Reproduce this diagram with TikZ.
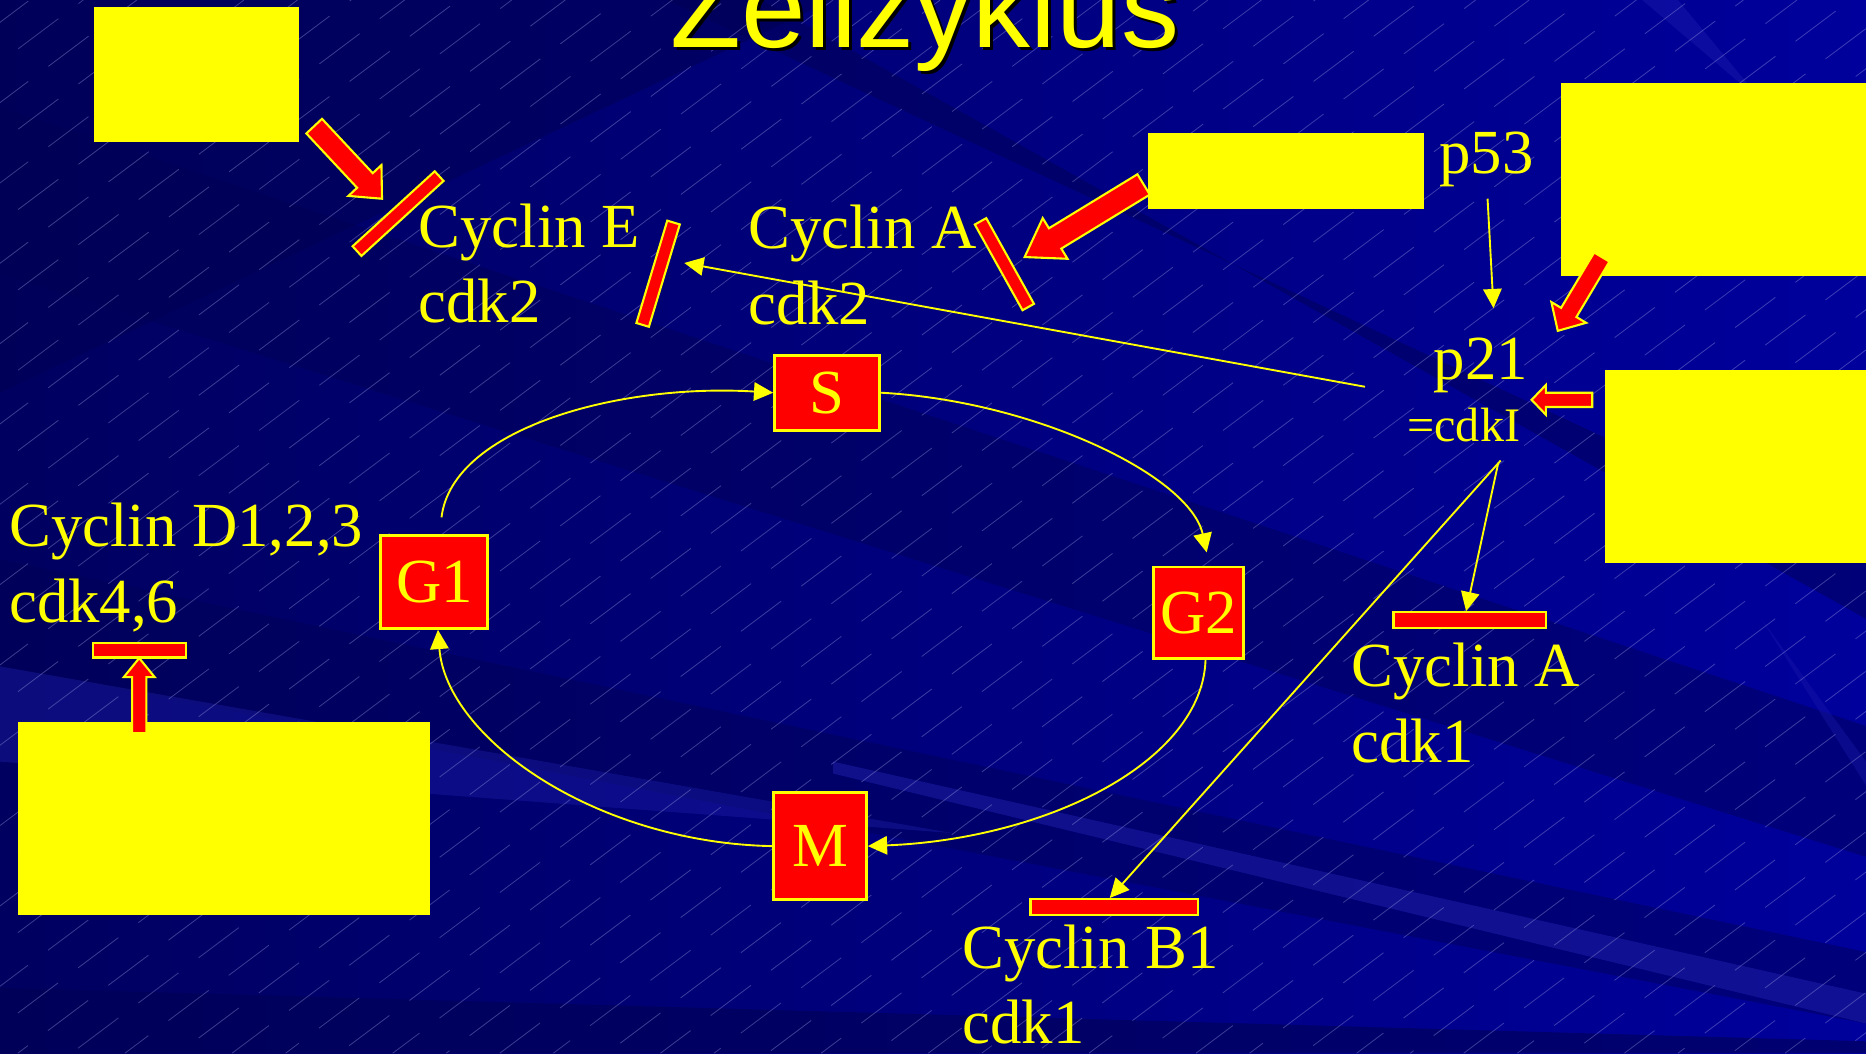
\documentclass[tikz,border=0pt]{standalone}
\usepackage{fontspec}
\setmainfont{Liberation Serif}
\newfontfamily\titlefont{Liberation Sans}
\usetikzlibrary{calc,arrows.meta,fit}
\definecolor{bgA}{HTML}{000060}
\definecolor{bgB}{HTML}{00009C}
\definecolor{bgdark}{HTML}{000055}
\definecolor{bglight}{HTML}{2424B4}
\definecolor{hatchcol}{HTML}{A8A8E8}
\definecolor{ared}{HTML}{FF0000}
\definecolor{ayel}{HTML}{FFFF00}
\tikzset{
  lbl/.style={text=ayel, font=\fontsize{15}{18}\selectfont, inner sep=0pt, anchor=base west},
  phase/.style={draw=ayel, fill=ared, line width=0.7pt, text=ayel, font=\fontsize{15}{18}\selectfont, inner sep=0pt},
  ybox/.style={fill=ayel, draw=none, inner sep=0pt},
  inhib/.style={draw=ayel, fill=ared, line width=0.5pt, inner sep=0pt},
  blockarr/.style={draw=ayel, fill=ared, line width=0.5pt, line join=miter},
  flow/.style={draw=ayel, line width=0.45pt, -{Triangle[length=4.6pt,width=4.4pt]}},
}
% tail, tip, shaft half width, head half width, head length
\newcommand\blockarrow[5]{%
  \coordinate (bah) at ($(#2)!#5!(#1)$);
  \filldraw[blockarr] ($(#1)!#3!90:(#2)$) -- ($(bah)!#3!90:(#2)$) -- ($(bah)!#4!90:(#2)$) -- (#2)
     -- ($(bah)!#4!-90:(#2)$) -- ($(bah)!#3!-90:(#2)$) -- ($(#1)!#3!-90:(#2)$) -- cycle;
}
\begin{document}
\begin{tikzpicture}[x=0.01cm,y=-0.01cm]
\useasboundingbox (0,0) rectangle (1568,885);
% ---------- background ----------
\shade[left color=bgA, right color=bgB] (0,0) rectangle (1568,885);
\begin{scope}
\clip (0,0) rectangle (1568,885);
\fill[bgdark, opacity=0.55] (0,0) -- (700,0) -- (0,330) -- cycle;
\fill[bgdark, opacity=0.45] (0,90) -- (0,230) -- (1568,720) -- (1568,610) -- cycle;
\fill[bgdark, opacity=0.45] (0,470) -- (0,560) -- (1568,860) -- (1568,800) -- cycle;
\fill[bgdark, opacity=0.6] (0,830) -- (0,885) -- (1568,885) -- (1568,875) -- cycle;
\fill[bgdark, opacity=0.5] (560,0) -- (640,0) -- (1568,520) -- (1568,470) -- cycle;
\fill[bglight, opacity=0.45] (700,640) -- (1568,835) -- (1568,860) -- (700,650) -- cycle;
\fill[bglight, opacity=0.35] (0,560) -- (0,640) -- (800,700) -- cycle;
\fill[bglight, opacity=0.35] (1380,0) -- (1410,0) -- (1568,190) -- (1568,160) -- cycle;
\fill[bglight, opacity=0.3] (1480,520) -- (1568,640) -- (1568,660) -- cycle;
\foreach \i in {0,...,62} {
  \pgfmathsetmacro\xs{-1200+\i*45}
  \pgfmathsetmacro\ph{mod(\i*7,18)}
  \draw[hatchcol, opacity=0.35, line width=0.2pt, dash pattern=on 12pt off 6pt, dash phase=\ph pt] (\xs,885) -- ++(1180,-885);
}
\end{scope}
% ---------- title ----------
\node[anchor=base, inner sep=0pt, text=black, font=\titlefont\fontsize{27.7}{30}\selectfont] (titleshadow) at (779.5,42.5) {Zellzyklus};
\node[anchor=base, inner sep=0pt, text=ayel, font=\titlefont\fontsize{27.7}{30}\selectfont] (title) at (777,40) {Zellzyklus};
% ---------- yellow boxes ----------
\node[ybox, fit={(79,6) (251,119)}] (boxA) {};
\node[ybox, fit={(965,112) (1197,176)}] (boxB) {};
\node[ybox, fit={(1312,70) (1568,232)}] (boxC) {};
\node[ybox, fit={(1349,311) (1568,473)}] (boxD) {};
\node[ybox, fit={(15,607) (361,769)}] (boxE) {};
% ---------- labels ----------
\node[lbl] (cycE) at (351,208) {Cyclin E};
\node[lbl] (cycEk) at (351,271) {cdk2};
\node[lbl] (cycA) at (628,209) {Cyclin A};
\node[lbl] (cycAk) at (628,273) {cdk2};
\node[lbl] (p53) at (1209,146) {p53};
\node[lbl] (p21) at (1204,319) {p21};
\node[lbl, font=\fontsize{11.5}{14}\selectfont] (cdkI) at (1182,371) {=cdkI};
\node[lbl] (cycA1) at (1135,577) {Cyclin A};
\node[lbl] (cycA1k) at (1135,641) {cdk1};
\node[lbl] (cycB1) at (808,814) {Cyclin B1};
\node[lbl] (cycB1k) at (808,877) {cdk1};
\node[lbl] (cycD) at (7,459) {Cyclin D1,2,3};
\node[lbl] (cycDk) at (7,523) {cdk4,6};
% ---------- phase boxes ----------
\node[phase, minimum width=0.88cm, minimum height=0.63cm] (S) at (695,330) {S};
\node[phase, minimum width=0.90cm, minimum height=0.78cm] (G1) at (365,489) {G1};
\node[phase, minimum width=0.76cm, minimum height=0.77cm] (G2) at (1007,515) {G2};
\node[phase, minimum width=0.78cm, minimum height=0.90cm] (M) at (689,711) {M};
% ---------- inhibition bars ----------
\node[inhib, minimum width=0.934cm, minimum height=0.11cm, rotate=42.4] (barE1) at (334.5,179.5) {};
\node[inhib, minimum width=0.898cm, minimum height=0.11cm, rotate=73.2] (barE2) at (553,230) {};
\node[inhib, minimum width=0.824cm, minimum height=0.11cm, rotate=-60.9] (barA) at (844,222) {};
\node[inhib, minimum width=0.78cm, minimum height=0.12cm] (barD) at (117,546.5) {};
\node[inhib, minimum width=1.28cm, minimum height=0.13cm] (barA1) at (1235,521) {};
\node[inhib, minimum width=1.41cm, minimum height=0.13cm] (barB1) at (936.5,762) {};
% ---------- cycle ----------
\draw[flow] ($(G1.north)+(6,-14)$) .. controls (380,360) and (520,322) .. (S.west);
\draw[flow] (S.east) .. controls (870,337) and (1000,400) .. ($(G2.north)+(7,-11)$);
\draw[flow] ($(G2.south)+(6,0)$) .. controls (1010,640) and (880,705) .. (M.east);
\draw[flow] (M.west) .. controls (500,708) and (375,620) .. ($(G1.south)+(3,0)$);
% ---------- regulatory connectors ----------
\coordinate (p53out) at (1250,167);
\coordinate (p21in) at (1255,259);
\coordinate (p21left) at (1147,325);
\coordinate (cycEtip) at (575,221);
\coordinate (p21outA) at (1259,389);
\coordinate (p21outB) at (1261,387);
\draw[flow] (p53out) -- (p21in);
\draw[flow] (p21left) -- (cycEtip);
\draw[flow] (p21outA) -- ($(barA1.north)+(-3,0)$);
\draw[flow] (p21outB) -- ($(barB1.north)+(-4,0)$);
% ---------- block arrows ----------
\coordinate (a1tail) at (264,106); \coordinate (a1tip) at (321,167);
\coordinate (a2tail) at (961,155); \coordinate (a2tip) at (861,216);
\coordinate (a3tail) at (1346,216); \coordinate (a3tip) at (1309,278);
\coordinate (a4tail) at (1338,336); \coordinate (a4tip) at (1287,336);
\coordinate (a5tail) at (117,616); \coordinate (a5tip) at (117,553);
\blockarrow{a1tail}{a1tip}{0.09cm}{0.19cm}{0.21cm}
\blockarrow{a2tail}{a2tip}{0.10cm}{0.20cm}{0.30cm}
\blockarrow{a3tail}{a3tip}{0.075cm}{0.17cm}{0.18cm}
\blockarrow{a4tail}{a4tip}{0.06cm}{0.125cm}{0.12cm}
\blockarrow{a5tail}{a5tip}{0.06cm}{0.13cm}{0.16cm}
\end{tikzpicture}
\end{document}
